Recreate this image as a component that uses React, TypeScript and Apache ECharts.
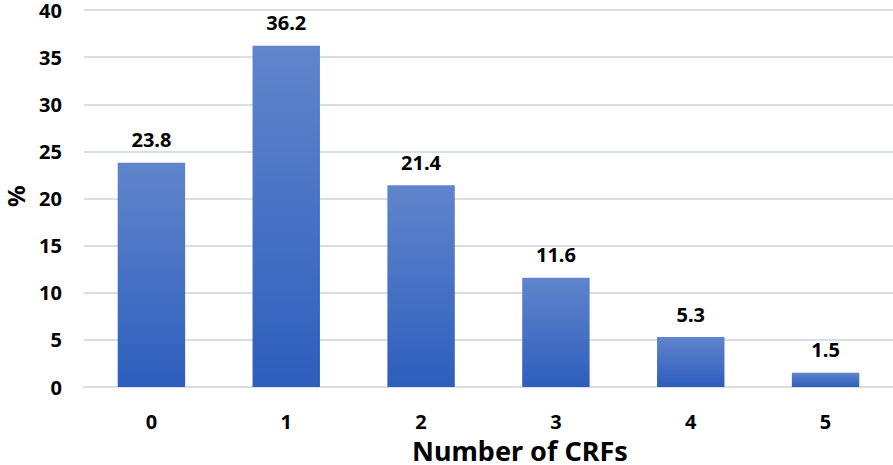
import React, { useEffect, useRef } from "react";
import * as echarts from "echarts";

const categories = ["0", "1", "2", "3", "4", "5"];
const values = [23.8, 36.2, 21.4, 11.6, 5.3, 1.5];
const yTicks = { min: 0, max: 40, interval: 5 };
const xTitle = "Number of CRFs";
const yTitle = "%";

export default function App() {
  const ref = useRef<HTMLDivElement>(null);
  useEffect(() => {
    if (!ref.current) return;
    const chart = echarts.init(ref.current, undefined, { renderer: "svg" });
    const font = "'Noto Sans', 'Open Sans', sans-serif";
    chart.setOption({
      animation: false,
      grid: { left: 84, right: 0, top: 9, bottom: 78, containLabel: false },
      xAxis: {
        type: "category",
        data: categories,
        axisLine: { show: true, lineStyle: { color: "#d9dde5", width: 2 } },
        axisTick: { show: false },
        axisLabel: { color: "#000", fontWeight: "bold", fontSize: 20, fontFamily: font, margin: 24, lineHeight: 20 },
      },
      yAxis: {
        type: "value",
        min: yTicks.min,
        max: yTicks.max,
        interval: yTicks.interval,
        axisLine: { show: false },
        axisTick: { show: false },
        splitLine: { lineStyle: { color: "#d9dde5", width: 2 } },
        axisLabel: { color: "#000", fontWeight: "bold", fontSize: 20, fontFamily: font, margin: 22, lineHeight: 16 },
      },
      graphic: [
        {
          type: "text",
          left: 412,
          top: 437,
          style: {
            text: xTitle,
            fontSize: 27,
            lineHeight: 25,
            fontWeight: "bold",
            fontFamily: font,
            fill: "#000",
          },
        },
        {
          type: "text",
          x: 3,
          y: 207,
          rotation: Math.PI / 2,
          style: { text: yTitle, fontSize: 24, fontWeight: "bold", fontFamily: font, fill: "#000" },
        },
      ],
      series: [
        {
          type: "bar",
          data: values,
          barWidth: "50%",
          itemStyle: {
            color: new echarts.graphic.LinearGradient(0, 0, 0, 1, [
              { offset: 0, color: "#6185cc" },
              { offset: 1, color: "#2d5ebd" },
            ]),
          },
          label: {
            show: true,
            position: "top",
            distance: 13,
            color: "#000",
            fontWeight: "bold",
            fontSize: 20,
            fontFamily: font,
          },
        },
      ],
    });
    return () => chart.dispose();
  }, []);
  return (
    <div
      ref={ref}
      style={{ position: "fixed", left: 0, top: 0, width: 893, height: 465, background: "#fff" }}
    />
  );
}
